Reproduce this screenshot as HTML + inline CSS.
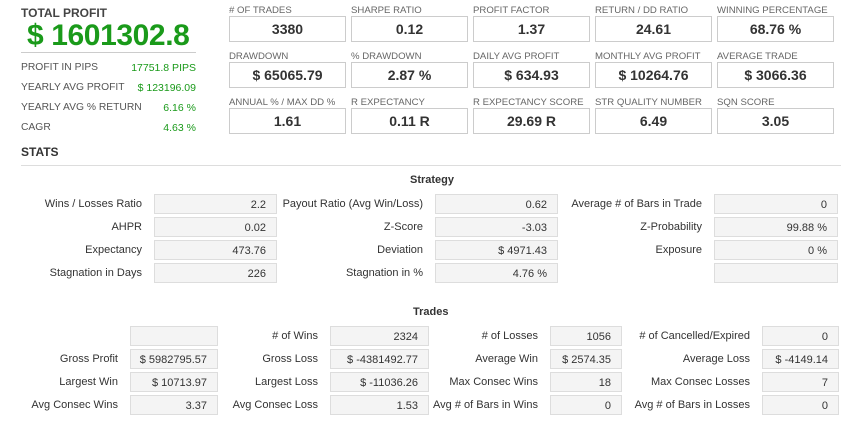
<!DOCTYPE html>
<html><head><meta charset="utf-8"><style>
body{margin:0;width:861px;height:433px;background:#fff;font-family:"Liberation Sans",Arial,sans-serif;color:#333;position:relative;overflow:hidden}
.a{position:absolute;white-space:nowrap}
.lbl{font-size:9.6px;color:#666;line-height:12px}
.box{position:absolute;width:115px;height:24px;border:1px solid #ccc;background:#fff;font-weight:bold;font-size:14px;text-align:center;line-height:24px;color:#333}
.sl{font-size:10.3px;color:#555;line-height:14px}
.sv{font-size:10.5px;color:#1a9a1a;line-height:14px;text-align:right}
.rl{position:absolute;font-size:11px;color:#333;text-align:right;line-height:20px;white-space:nowrap}
.rb{position:absolute;height:20px;border:1px solid #ddd;background:#f4f4f4;font-size:11px;text-align:right;line-height:20px;padding-right:10px;box-sizing:border-box;color:#333;white-space:nowrap;overflow:hidden}
.h{position:absolute;font-size:11px;font-weight:bold;color:#333}
</style></head><body>
<div class="a" style="left:21px;top:6px;font-size:12px;font-weight:bold;color:#444">TOTAL PROFIT</div>
<div class="a" style="left:27px;top:18px;font-size:30px;letter-spacing:-0.4px;font-weight:bold;color:#1a9a1a;line-height:36px">$ 1601302.8</div>
<div class="a" style="left:21px;top:52px;width:175px;height:1px;background:#ccc"></div>
<div class="a sl" style="left:21px;top:61px">PROFIT IN PIPS</div><div class="a sv" style="right:665px;top:61px">17751.8 PIPS</div>
<div class="a sl" style="left:21px;top:81px">YEARLY AVG PROFIT</div><div class="a sv" style="right:665px;top:81px">$ 123196.09</div>
<div class="a sl" style="left:21px;top:101px">YEARLY AVG % RETURN</div><div class="a sv" style="right:665px;top:101px">6.16 %</div>
<div class="a sl" style="left:21px;top:121px">CAGR</div><div class="a sv" style="right:665px;top:121px">4.63 %</div>

<div class="a lbl" style="left:229px;top:5px">#&nbsp;OF TRADES</div><div class="box" style="left:229px;top:16px">3380</div>
<div class="a lbl" style="left:351px;top:5px">SHARPE RATIO</div><div class="box" style="left:351px;top:16px">0.12</div>
<div class="a lbl" style="left:473px;top:5px">PROFIT FACTOR</div><div class="box" style="left:473px;top:16px">1.37</div>
<div class="a lbl" style="left:595px;top:5px">RETURN / DD RATIO</div><div class="box" style="left:595px;top:16px">24.61</div>
<div class="a lbl" style="left:717px;top:5px">WINNING PERCENTAGE</div><div class="box" style="left:717px;top:16px">68.76 %</div>

<div class="a lbl" style="left:229px;top:51px">DRAWDOWN</div><div class="box" style="left:229px;top:62px">$ 65065.79</div>
<div class="a lbl" style="left:351px;top:51px">% DRAWDOWN</div><div class="box" style="left:351px;top:62px">2.87 %</div>
<div class="a lbl" style="left:473px;top:51px">DAILY AVG PROFIT</div><div class="box" style="left:473px;top:62px">$ 634.93</div>
<div class="a lbl" style="left:595px;top:51px">MONTHLY AVG PROFIT</div><div class="box" style="left:595px;top:62px">$ 10264.76</div>
<div class="a lbl" style="left:717px;top:51px">AVERAGE TRADE</div><div class="box" style="left:717px;top:62px">$ 3066.36</div>

<div class="a lbl" style="left:229px;top:97px">ANNUAL % / MAX DD %</div><div class="box" style="left:229px;top:108px">1.61</div>
<div class="a lbl" style="left:351px;top:97px">R EXPECTANCY</div><div class="box" style="left:351px;top:108px">0.11 R</div>
<div class="a lbl" style="left:473px;top:97px">R EXPECTANCY SCORE</div><div class="box" style="left:473px;top:108px">29.69 R</div>
<div class="a lbl" style="left:595px;top:97px">STR QUALITY NUMBER</div><div class="box" style="left:595px;top:108px">6.49</div>
<div class="a lbl" style="left:717px;top:97px">SQN SCORE</div><div class="box" style="left:717px;top:108px">3.05</div>

<div class="a" style="left:21px;top:145px;font-size:12px;font-weight:bold;color:#333">STATS</div>
<div class="a" style="left:21px;top:165px;width:820px;height:1px;background:#ddd"></div>

<div class="h" style="left:410px;top:174px">Strategy</div>
<div class="rl" style="right:719px;top:194px">Wins / Losses Ratio</div><div class="rb" style="left:154px;top:194px;width:123px">2.2</div>
<div class="rl" style="right:438px;top:194px">Payout Ratio (Avg Win/Loss)</div><div class="rb" style="left:435px;top:194px;width:123px">0.62</div>
<div class="rl" style="right:159px;top:194px">Average # of Bars in Trade</div><div class="rb" style="left:714px;top:194px;width:124px">0</div>
<div class="rl" style="right:719px;top:217px">AHPR</div><div class="rb" style="left:154px;top:217px;width:123px">0.02</div>
<div class="rl" style="right:438px;top:217px">Z-Score</div><div class="rb" style="left:435px;top:217px;width:123px">-3.03</div>
<div class="rl" style="right:159px;top:217px">Z-Probability</div><div class="rb" style="left:714px;top:217px;width:124px">99.88 %</div>
<div class="rl" style="right:719px;top:240px">Expectancy</div><div class="rb" style="left:154px;top:240px;width:123px">473.76</div>
<div class="rl" style="right:438px;top:240px">Deviation</div><div class="rb" style="left:435px;top:240px;width:123px">$ 4971.43</div>
<div class="rl" style="right:159px;top:240px">Exposure</div><div class="rb" style="left:714px;top:240px;width:124px">0 %</div>
<div class="rl" style="right:719px;top:263px">Stagnation in Days</div><div class="rb" style="left:154px;top:263px;width:123px">226</div>
<div class="rl" style="right:438px;top:263px">Stagnation in %</div><div class="rb" style="left:435px;top:263px;width:123px">4.76 %</div>
<div class="rb" style="left:714px;top:263px;width:124px"></div>

<div class="h" style="left:413px;top:306px">Trades</div>
<div class="rb" style="left:130px;top:326px;width:88px"></div>
<div class="rl" style="right:543px;top:326px"># of Wins</div><div class="rb" style="left:330px;top:326px;width:99px">2324</div>
<div class="rl" style="right:323px;top:326px"># of Losses</div><div class="rb" style="left:550px;top:326px;width:72px">1056</div>
<div class="rl" style="right:111px;top:326px"># of Cancelled/Expired</div><div class="rb" style="left:762px;top:326px;width:77px">0</div>
<div class="rl" style="right:743px;top:349px">Gross Profit</div><div class="rb" style="left:130px;top:349px;width:88px">$ 5982795.57</div>
<div class="rl" style="right:543px;top:349px">Gross Loss</div><div class="rb" style="left:330px;top:349px;width:99px">$ -4381492.77</div>
<div class="rl" style="right:323px;top:349px">Average Win</div><div class="rb" style="left:550px;top:349px;width:72px">$ 2574.35</div>
<div class="rl" style="right:111px;top:349px">Average Loss</div><div class="rb" style="left:762px;top:349px;width:77px">$ -4149.14</div>
<div class="rl" style="right:743px;top:372px">Largest Win</div><div class="rb" style="left:130px;top:372px;width:88px">$ 10713.97</div>
<div class="rl" style="right:543px;top:372px">Largest Loss</div><div class="rb" style="left:330px;top:372px;width:99px">$ -11036.26</div>
<div class="rl" style="right:323px;top:372px">Max Consec Wins</div><div class="rb" style="left:550px;top:372px;width:72px">18</div>
<div class="rl" style="right:111px;top:372px">Max Consec Losses</div><div class="rb" style="left:762px;top:372px;width:77px">7</div>
<div class="rl" style="right:743px;top:395px">Avg Consec Wins</div><div class="rb" style="left:130px;top:395px;width:88px">3.37</div>
<div class="rl" style="right:543px;top:395px">Avg Consec Loss</div><div class="rb" style="left:330px;top:395px;width:99px">1.53</div>
<div class="rl" style="right:323px;top:395px">Avg # of Bars in Wins</div><div class="rb" style="left:550px;top:395px;width:72px">0</div>
<div class="rl" style="right:111px;top:395px">Avg # of Bars in Losses</div><div class="rb" style="left:762px;top:395px;width:77px">0</div>
</body></html>
